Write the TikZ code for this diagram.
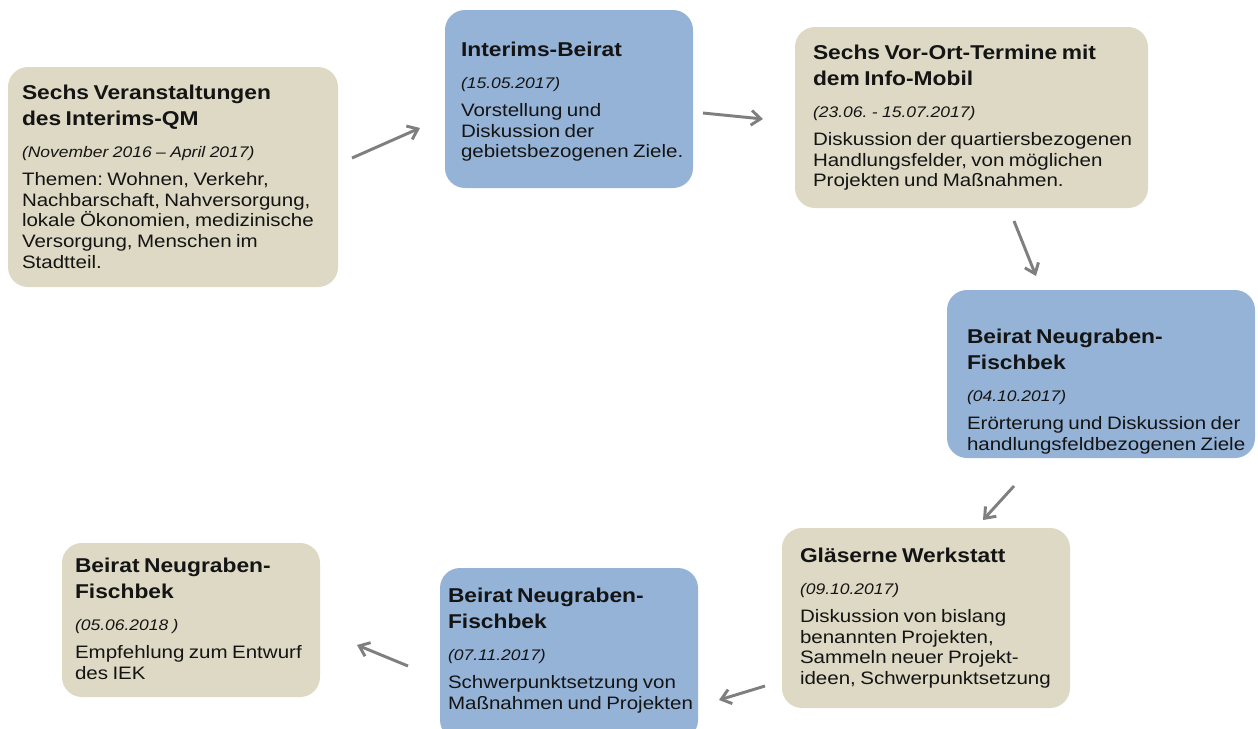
\documentclass[tikz,border=0pt]{standalone}
\usepackage{fontspec}
\setmainfont[FakeStretch=1.14]{Liberation Sans}
\usetikzlibrary{arrows.meta,fit}
\definecolor{tanbox}{HTML}{DDD9C4}
\definecolor{bluebox}{HTML}{95B3D7}
\definecolor{arrowgray}{HTML}{7F7F7F}
\definecolor{inkcol}{HTML}{141414}
\setlength\parskip{0pt}
\setlength\parindent{0pt}
\frenchspacing
\newcommand\boxtitle[1]{{\fontsize{15pt}{19.5pt}\selectfont\bfseries #1\par}\vspace{10pt}}
\newcommand\boxdate[1]{{\fontsize{11.5pt}{14pt}\selectfont\itshape #1\par}\vspace{5.5pt}}
\newcommand\boxbody[1]{{\fontsize{13.5pt}{15.5pt}\selectfont #1\par}}
\begin{document}
\begin{tikzpicture}[x=0.75pt,y=-0.75pt,
  card/.style={rounded corners=15pt, inner sep=0pt, draw=none},
  tancard/.style={card, fill=tanbox},
  bluecard/.style={card, fill=bluebox},
  cardtext/.style={anchor=north west, inner sep=0pt, text width=290pt, align=left, text=inkcol},
  flow/.style={draw=arrowgray, line width=2.2pt, -{Straight Barb[length=7pt,width=11pt]}}]
\useasboundingbox (0,0) rectangle (1258,729);

% boxes
\node[tancard,  fit={(8,67) (338,287)}]    (b1) {};
\node[bluecard, fit={(445,10) (693,188)}]  (b2) {};
\node[tancard,  fit={(795,27) (1148,208)}] (b3) {};
\node[bluecard, fit={(947,290) (1255,458)}] (b4) {};
\node[tancard,  fit={(782,528) (1070,708)}] (b5) {};
\node[bluecard, fit={(440,568) (698,740)}] (b6) {};
\node[tancard,  fit={(62,543) (320,697)}]  (b7) {};

% texts
\node[cardtext] (t1) at ([shift={(14,18)}]b1.north west) {%
  \boxtitle{Sechs Veranstaltungen\\des Interims-QM}%
  \boxdate{(November 2016 – April 2017)}%
  \boxbody{Themen: Wohnen, Verkehr,\\Nachbarschaft, Nahversorgung,\\lokale Ökonomien, medizinische\\Versorgung, Menschen im\\Stadtteil.}};
\node[cardtext] (t2) at ([shift={(16,32)}]b2.north west) {%
  \boxtitle{Interims-Beirat}%
  \boxdate{(15.05.2017)}%
  \boxbody{Vorstellung und\\Diskussion der\\gebietsbezogenen Ziele.}};
\node[cardtext] (t3) at ([shift={(18,18)}]b3.north west) {%
  \boxtitle{Sechs Vor-Ort-Termine mit\\dem Info-Mobil}%
  \boxdate{(23.06. - 15.07.2017)}%
  \boxbody{Diskussion der quartiersbezogenen\\Handlungsfelder, von möglichen\\Projekten und Maßnahmen.}};
\node[cardtext] (t4) at ([shift={(20,39)}]b4.north west) {%
  \boxtitle{Beirat Neugraben-\\Fischbek}%
  \boxdate{(04.10.2017)}%
  \boxbody{Erörterung und Diskussion der\\handlungsfeldbezogenen Ziele}};
\node[cardtext] (t5) at ([shift={(18,20)}]b5.north west) {%
  \boxtitle{Gläserne Werkstatt}%
  \boxdate{(09.10.2017)}%
  \boxbody{Diskussion von bislang\\benannten Projekten,\\Sammeln neuer Projekt-\\ideen, Schwerpunktsetzung}};
\node[cardtext] (t6) at ([shift={(8,20)}]b6.north west) {%
  \boxtitle{Beirat Neugraben-\\Fischbek}%
  \boxdate{(07.11.2017)}%
  \boxbody{Schwerpunktsetzung von\\Maßnahmen und Projekten}};
\node[cardtext] (t7) at ([shift={(13,15)}]b7.north west) {%
  \boxtitle{Beirat Neugraben-\\Fischbek}%
  \boxdate{(05.06.2018 )}%
  \boxbody{Empfehlung zum Entwurf\\des IEK}};

% arrow end points
\coordinate (a1s) at (352,158);  \coordinate (a1e) at (420,128);
\coordinate (a2s) at (703,113);  \coordinate (a2e) at (763,119);
\coordinate (a3s) at (1014,221); \coordinate (a3e) at (1036,276);
\coordinate (a4s) at (1014,486); \coordinate (a4e) at (983,520);
\coordinate (a5s) at (765,686);  \coordinate (a5e) at (719,700);
\coordinate (a6s) at (408,666);  \coordinate (a6e) at (357,645);

\draw[flow] (a1s) -- (a1e);
\draw[flow] (a2s) -- (a2e);
\draw[flow] (a3s) -- (a3e);
\draw[flow] (a4s) -- (a4e);
\draw[flow] (a5s) -- (a5e);
\draw[flow] (a6s) -- (a6e);
\end{tikzpicture}
\end{document}
